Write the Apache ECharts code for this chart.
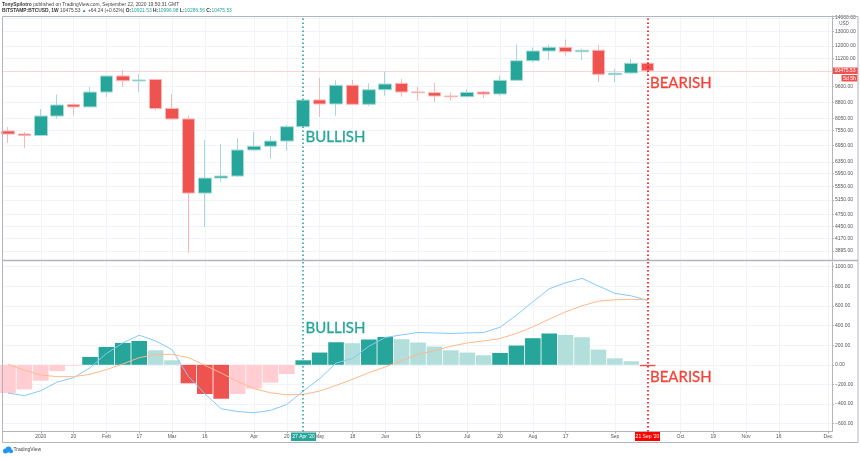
<!DOCTYPE html>
<html>
<head>
<meta charset="utf-8">
<style>html,body{margin:0;padding:0;background:#fff}#chart{width:860px;height:457px}</style>
<script src="https://cdn.jsdelivr.net/npm/echarts@6/dist/echarts.min.js"></script>
</head>
<body>
<div id="chart"></div>
<script>
// weekly candles, first one is the week of 23 Dec 2019
const opens = [7525, 7400, 7340, 8170, 8700, 8590, 9320, 10180, 9910, 9985, 8515, 8040, 5350, 5810, 5875, 6780, 6920, 7120, 7705, 8925, 8730, 9670, 8715, 9440, 9775, 9325, 9290, 9120, 9085, 9320, 9220, 9940, 11070, 11680, 11915, 11635, 11725, 10255, 10350, 10921.53];
const closes = [7400, 7340, 8170, 8680, 8590, 9320, 10180, 9920, 9960, 8515, 8040, 5350, 5810, 5875, 6780, 6920, 7120, 7705, 8920, 8730, 9670, 8715, 9440, 9740, 9325, 9290, 9120, 9085, 9305, 9220, 9940, 11070, 11680, 11915, 11635, 11725, 10275, 10335, 10915, 10475.53];
const lows = [7045, 6855, 7340, 8050, 8215, 8560, 9070, 9580, 9320, 8420, 8015, 3850, 4440, 5685, 5845, 6740, 6460, 6750, 7700, 8125, 8185, 8680, 8630, 9135, 9085, 8890, 8825, 8890, 9070, 9015, 9135, 9905, 10955, 11115, 11380, 11115, 9850, 9835, 10275, 10286.56];
const highs = [7690, 7480, 8490, 9195, 8775, 9580, 10200, 10520, 10290, 10015, 9220, 8190, 7160, 7005, 7240, 7480, 7320, 7780, 8950, 10070, 9940, 9960, 9780, 10445, 10015, 9600, 9810, 9305, 9460, 9375, 10195, 12115, 11915, 12090, 12455, 11835, 12070, 10580, 11175, 10996.98];

// MACD pane
const histogram = [-288, -250, -162, -63, -8, 80, 182, 223, 243, 148, 46, -189, -298, -346, -298, -243, -182, -94, 46, 125, 230, 220, 258, 284, 261, 227, 186, 148, 125, 97, 121, 196, 271, 319, 305, 281, 155, 66, 36, -15];
const macdLine = [-288, -315, -264, -176, -131, -30, 115, 223, 302, 243, 155, -118, -295, -448, -476, -489, -465, -404, -268, -141, 18, 63, 189, 278, 305, 329, 325, 319, 325, 329, 383, 506, 642, 775, 836, 881, 803, 728, 703, 656];
const signalLine = [5, -56, -104, -121, -121, -97, -49, 8, 73, 104, 107, 73, -5, -84, -169, -243, -285, -305, -302, -268, -210, -148, -80, -22, 43, 104, 145, 189, 223, 243, 268, 319, 387, 465, 540, 601, 649, 663, 667, 663];

// axis ticks
const tickWeeks = [2, 4, 6, 8, 10, 12, 15, 17, 19, 21, 23, 25, 28, 30, 32, 34, 37, 41, 43, 45, 47, 50];
const tickNames = ['2020', '20', 'Feb', '17', 'Mar', '16', 'Apr', '20', 'May', '18', 'Jun', '15', 'Jul', '20', 'Aug', '17', 'Sep', 'Oct', '19', 'Nov', '16', 'Dec'];
const priceTicks = [14000, 13000, 12000, 11200, 9600, 8800, 8050, 7550, 6950, 6350, 5950, 5550, 5150, 4750, 4450, 4170, 3895];
const macdTicks = [1000, 800, 600, 400, 200, 0, -200, -400, -600];

const bullWeek = 18;
const bearWeek = 39;
const lastPrice = 10475.53;

const GREEN = '#26a69a', PALE_GREEN = '#b2dfdb', RED = '#ef5350', PALE_RED = '#ffcdd2';
const GRID_LINE = '#f0f3fa', FRAME = '#b2b5be', LABEL = '#555';
const FONT = '"Liberation Sans", sans-serif';

const chart = echarts.init(document.getElementById('chart'));

function xAxisOf(gridIndex, showLabels) {
    return {
        type: 'value', gridIndex: gridIndex, min: -0.305, max: 50.24,
        axisLine: { show: true, onZero: false, lineStyle: { color: FRAME } },
        axisTick: { show: showLabels, length: 2, customValues: tickWeeks, lineStyle: { color: FRAME } },
        axisLabel: {
            show: showLabels, customValues: tickWeeks, fontSize: 5, color: LABEL, margin: 3, fontFamily: FONT,
            formatter: v => tickNames[tickWeeks.indexOf(v)] || ''
        },
        splitLine: { show: true, lineStyle: { color: GRID_LINE } }
    };
}

function weekLines() {
    return {
        silent: true, symbol: 'none', animation: false, label: { show: false },
        data: [
            { xAxis: bullWeek, lineStyle: { color: GREEN, width: 1.6, type: [1.6, 2.4] } },
            { xAxis: bearWeek, lineStyle: { color: '#f00', width: 1.6, type: [1.6, 2.4] } }
        ]
    };
}

function annotation(text, x, y, color) {
    return { type: 'text', x: x, y: y, z: 50, style: { text: text, fill: color, stroke: color, lineWidth: 0.3, fontSize: 15, fontFamily: 'Lato, sans-serif', textVerticalAlign: 'middle' } };
}

function axisTag(text, x, y, w, h, color) {
    return {
        type: 'group', z: 60, children: [
            { type: 'rect', shape: { x: x, y: y, width: w, height: h }, style: { fill: color } },
            { type: 'text', x: x + w / 2, y: y + h / 2, style: { text: text, fill: '#fff', fontSize: 5, fontFamily: FONT, textAlign: 'center', textVerticalAlign: 'middle' } }
        ]
    };
}

chart.setOption({
    animation: false,
    backgroundColor: '#fff',
    title: [
        {
            left: 2, top: 2, padding: 0,
            text: '{b|TonySpilotro} published on TradingView.com, September 22, 2020 19:50:31 GMT',
            textStyle: { fontSize: 4.9, fontWeight: 'normal', color: '#444', fontFamily: FONT, rich: { b: { fontSize: 4.9, fontWeight: 'bold', color: '#333', fontFamily: FONT } } }
        },
        {
            left: 2, top: 8.5, padding: 0,
            text: '{b|BITSTAMP:BTCUSD, 1W} 10475.53 {g|▲} +64.24 (+0.62%) {b|O:}{g|10921.53} {b|H:}{g|10996.98} {b|L:}{g|10286.56} {b|C:}{g|10475.53}',
            textStyle: {
                fontSize: 4.9, fontWeight: 'normal', color: '#444', fontFamily: FONT,
                rich: {
                    b: { fontSize: 4.9, fontWeight: 'bold', color: '#333', fontFamily: FONT },
                    g: { fontSize: 4.9, color: GREEN, fontFamily: FONT }
                }
            }
        }
    ],
    grid: [
        { left: 3, top: 16, width: 829, height: 244, show: false },
        { left: 3, top: 262, width: 829, height: 169.5, show: false }
    ],
    xAxis: [xAxisOf(0, false), xAxisOf(1, true)],
    yAxis: [
        {
            type: 'log', gridIndex: 0, position: 'right', min: 3704, max: 14156,
            axisLine: { show: true, onZero: false, lineStyle: { color: FRAME } },
            axisTick: { show: true, length: 2, customValues: priceTicks, lineStyle: { color: FRAME } },
            axisLabel: { customValues: priceTicks, fontSize: 5, color: LABEL, margin: 3, fontFamily: FONT, formatter: v => v.toFixed(2) },
            splitLine: { show: true, lineStyle: { color: GRID_LINE } },
            minorSplitLine: { show: false }
        },
        {
            type: 'value', gridIndex: 1, position: 'right', min: -680, max: 1048,
            axisLine: { show: true, onZero: false, lineStyle: { color: FRAME } },
            axisTick: { show: true, length: 2, customValues: macdTicks, lineStyle: { color: FRAME } },
            axisLabel: { customValues: macdTicks, fontSize: 5, color: LABEL, margin: 3, fontFamily: FONT, formatter: v => v.toFixed(2).replace('-', '\u2212') },
            splitLine: { show: true, lineStyle: { color: GRID_LINE } }
        }
    ],
    series: [
        // last price line sits behind the candles
        {
            type: 'line', xAxisIndex: 0, yAxisIndex: 0, data: [], z: 1,
            markLine: {
                z: 1, silent: true, symbol: 'none', animation: false, label: { show: false },
                data: [{ yAxis: lastPrice, lineStyle: { color: '#fbd5d5', width: 1, type: 'solid' } }]
            }
        },
        {
            type: 'candlestick', xAxisIndex: 0, yAxisIndex: 0, barWidth: 13, z: 2,
            encode: { x: 0, y: [1, 2, 3, 4] },
            data: opens.map((o, i) => [i, o, closes[i], lows[i], highs[i]]),
            itemStyle: { color: GREEN, color0: RED, borderColor: '#a8dad5', borderColor0: '#fbb6b6', borderWidth: 1 },
            markLine: weekLines()
        },
        {
            type: 'bar', xAxisIndex: 1, yAxisIndex: 1, barWidth: 15.6,
            data: histogram.map((v, i) => [i, v]),
            itemStyle: {
                color: p => {
                    const v = histogram[p.dataIndex], prev = histogram[p.dataIndex - 1];
                    if (v >= 0) return v >= prev ? GREEN : PALE_GREEN;
                    return v < prev ? RED : PALE_RED;
                }
            }
        },
        {
            type: 'line', xAxisIndex: 1, yAxisIndex: 1, showSymbol: false, smooth: false,
            data: macdLine.map((v, i) => [i, v]),
            lineStyle: { color: '#87c8fb', width: 1 }
        },
        {
            type: 'line', xAxisIndex: 1, yAxisIndex: 1, showSymbol: false, smooth: false,
            data: signalLine.map((v, i) => [i, v]),
            lineStyle: { color: '#ffb98a', width: 1 },
            markLine: weekLines()
        }
    ],
    graphic: [
        // outer frame and pane separator
        { type: 'rect', z: 40, shape: { x: 2.5, y: 16.5, width: 855.5, height: 426 }, style: { fill: 'none', stroke: FRAME, lineWidth: 1 } },
        { type: 'line', z: 40, shape: { x1: 3, y1: 260.5, x2: 858, y2: 260.5 }, style: { stroke: FRAME, lineWidth: 1.5 } },
        annotation('BULLISH', 305.5, 137, GREEN),
        annotation('BULLISH', 305.5, 328, GREEN),
        annotation('BEARISH', 650, 83, '#f44336'),
        annotation('BEARISH', 650, 377, '#f44336'),
        axisTag('10475.53', 832, 67.5, 26, 6.5, RED),
        axisTag('5d 5h', 841.5, 75, 16, 6.5, RED),
        axisTag("27 Apr '20", 291, 432.5, 25, 8.5, GREEN),
        axisTag("21 Sep '20", 635, 432, 25, 9, '#f00'),
        // USD badge
        { type: 'rect', z: 60, shape: { x: 838, y: 20.5, width: 12, height: 6, r: 1 }, style: { fill: '#fff', stroke: '#e0e3eb', lineWidth: 0.5 } },
        { type: 'text', z: 61, x: 844, y: 23.5, style: { text: 'USD', fill: LABEL, fontSize: 4.5, fontFamily: FONT, textAlign: 'center', textVerticalAlign: 'middle' } },
        // TradingView mark
        { type: 'circle', z: 60, shape: { cx: 5.5, cy: 451, r: 2.5 }, style: { fill: '#2196f3' } },
        { type: 'circle', z: 60, shape: { cx: 8.5, cy: 449.5, r: 3 }, style: { fill: '#2196f3' } },
        { type: 'circle', z: 60, shape: { cx: 11, cy: 451.3, r: 2 }, style: { fill: '#2196f3' } },
        { type: 'text', z: 60, x: 13.5, y: 450, style: { text: 'TradingView', fill: '#444', fontSize: 5, fontFamily: FONT, textVerticalAlign: 'middle' } }
    ]
});
</script>
</body>
</html>
